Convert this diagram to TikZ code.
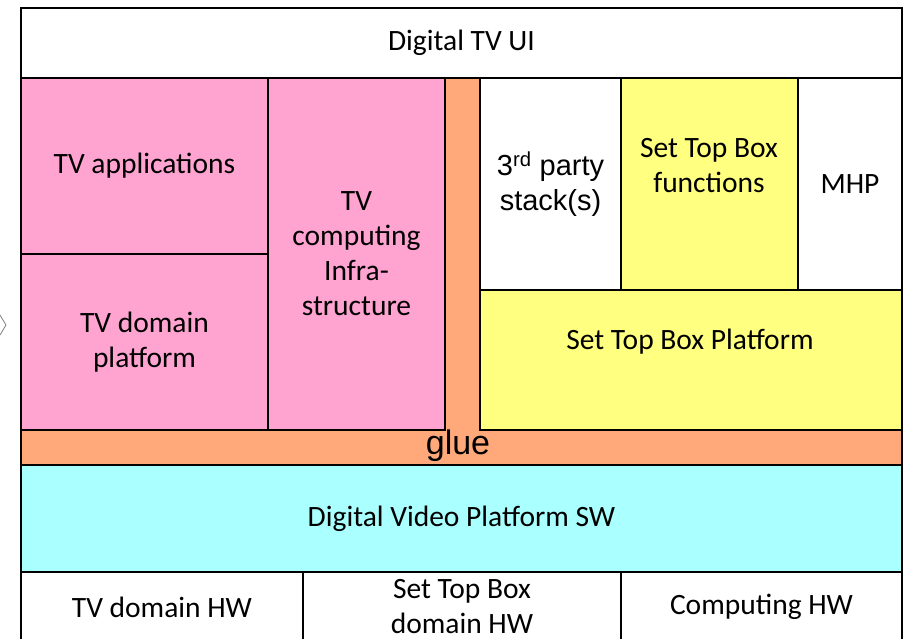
\documentclass[tikz,border=0pt]{standalone}
\usepackage{fontspec}
\setmainfont{Carlito}
\newfontfamily\arialfont{Liberation Sans}
\usetikzlibrary{positioning}
\definecolor{tvpink}{RGB}{255,163,209}
\definecolor{gluecol}{RGB}{255,168,122}
\definecolor{stbyellow}{RGB}{255,255,128}
\definecolor{dvpcyan}{RGB}{170,255,255}

\begin{document}
\begin{tikzpicture}[x=1pt,y=-1pt,
  layer/.style={draw,line width=1.6pt,inner sep=0pt,outer sep=0pt,anchor=north west,align=center,
    font=\fontsize{29.5}{35}\selectfont},
  label/.style={inner sep=0pt,align=center,font=\fontsize{29.5}{35}\selectfont}]
\useasboundingbox (0,0) rectangle (903,638);
% glue, an L shape behind the boxes
\draw[line width=1.6pt,fill=gluecol] (445,78) -- (480,78) -- (480,430) -- (902,430) -- (902,465)
  -- (21,465) -- (21,430) -- (445,430) -- cycle;
\node[label,font=\arialfont\fontsize{34}{35}\selectfont] (glue) at (458,446) {glue};
% top
\node[layer,minimum width=881,minimum height=70] (tv_ui) at (21,8) {Digital TV UI};
% TV side
\node[layer,fill=tvpink,minimum width=247,minimum height=176] (tv_app) at (21,78) {TV applications};
\node[layer,fill=tvpink,minimum width=247,minimum height=176] (tv_dom) at (21,254) {TV domain\\platform};
\node[layer,fill=tvpink,minimum width=177,minimum height=352] (tv_comp) at (268,78) {TV\\computing\\Infra-\\structure};
% set top box side
\node[layer,minimum width=141,minimum height=212,font=\arialfont\fontsize{29}{35}\selectfont] (stack) at (480,78) {3\textsuperscript{rd} party\\stack(s)};
\node[layer,fill=stbyellow,minimum width=177,minimum height=212] (stb_fun) at (621,78) {};
\node[label] (stb_fun_txt) at (709,166) {Set Top Box\\functions};
\node[layer,minimum width=104,minimum height=212] (mhp) at (798,78) {MHP};
\node[layer,fill=stbyellow,minimum width=422,minimum height=140] (stb_plat) at (480,290) {};
\node[label] (stb_plat_txt) at (690,342) {Set Top Box Platform};
% platform and hardware
\node[layer,fill=dvpcyan,minimum width=881,minimum height=107] (dvp) at (21,465) {Digital Video Platform SW};
\node[layer,minimum width=282,minimum height=70] (tv_hw) at (21,572) {TV domain HW};
\node[layer,minimum width=318,minimum height=70] (stb_hw) at (303,572) {Set Top Box\\domain HW};
\node[layer,minimum width=281,minimum height=70] (comp_hw) at (621,572) {Computing HW};
% stray mark at the left edge
\draw[gray,line width=0.8pt] (0,315) -- (6,325) -- (0,335);
\end{tikzpicture}
\end{document}
